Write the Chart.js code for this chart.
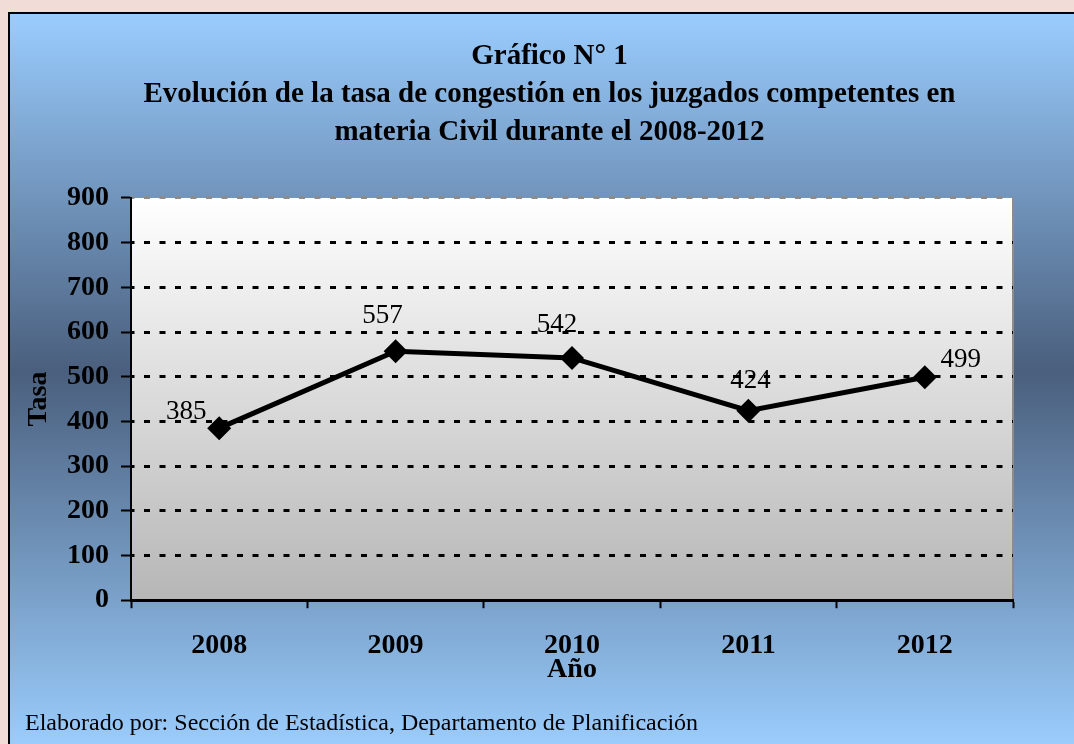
<!DOCTYPE html>
<html>
<head>
<meta charset="utf-8">
<script src="https://cdn.jsdelivr.net/npm/chart.js@4.4.1/dist/chart.umd.min.js"></script>
<style>
  html, body { margin: 0; padding: 0; background: #f1dcd7; }
  canvas { display: block; }
</style>
</head>
<body>
<canvas id="grafico" width="1074" height="744"></canvas>
<script>
// datos del grafico
const years = ['2008', '2009', '2010', '2011', '2012']
const tasa = [385, 557, 542, 424, 499]
const yMin = 0
const yMax = 900
const yStep = 100
const titulo = [
    'Gráfico N° 1',
    'Evolución de la tasa de congestión en los juzgados competentes en',
    'materia Civil durante el 2008-2012'
]
const ejeX = 'Año'
const ejeY = 'Tasa'
const fuente = 'Elaborado por: Sección de Estadística, Departamento de Planificación'

const serif = '"Liberation Serif", "Times New Roman", serif'

// fondo rosado, recuadro azul y area de trazado en degradado
const fondo = {
    id: 'fondo',
    beforeDraw(chart) {
        const ctx = chart.ctx
        const a = chart.chartArea
        const w = chart.width, h = chart.height
        ctx.save()
        ctx.fillStyle = '#f1dcd7'
        ctx.fillRect(0, 0, w, h)

        let g = ctx.createLinearGradient(0, 13, 0, h)
        g.addColorStop(0, '#9acdff')
        g.addColorStop(0.49, '#4a5f7d')
        g.addColorStop(1, '#9accfc')
        ctx.fillStyle = g
        ctx.fillRect(9, 13, w, h)
        ctx.strokeStyle = '#000'
        ctx.lineWidth = 2
        ctx.beginPath()
        ctx.moveTo(9, h)
        ctx.lineTo(9, 13)
        ctx.lineTo(w, 13)
        ctx.stroke()

        let p = ctx.createLinearGradient(0, a.top, 0, a.bottom)
        p.addColorStop(0, '#ffffff')
        p.addColorStop(1, '#b6b6b6')
        ctx.fillStyle = p
        ctx.fillRect(a.left, a.top, a.width, a.height)
        ctx.strokeStyle = '#8c8c8c'
        ctx.lineWidth = 2
        ctx.beginPath()
        ctx.moveTo(a.right, a.top)
        ctx.lineTo(a.right, a.bottom)
        ctx.stroke()
        ctx.restore()
    },
    afterDraw(chart) {
        // eje vertical continuo
        const ctx = chart.ctx
        const a = chart.chartArea
        ctx.save()
        ctx.strokeStyle = '#000'
        ctx.lineWidth = 2
        ctx.beginPath()
        ctx.moveTo(a.left, a.top)
        ctx.lineTo(a.left, a.bottom)
        ctx.stroke()
        ctx.restore()
    }
}

// etiquetas de valores junto a cada punto
const desplaz = [[-33, -16], [-13, -35], [-15, -33], [2, -30], [36, -17]]
const etiquetas = {
    id: 'etiquetas',
    afterDatasetsDraw(chart) {
        const ctx = chart.ctx
        const meta = chart.getDatasetMeta(0)
        ctx.save()
        ctx.font = '27px ' + serif
        ctx.fillStyle = '#000'
        ctx.textAlign = 'center'
        ctx.textBaseline = 'middle'
        meta.data.forEach((pt, i) => {
            ctx.fillText(String(tasa[i]), pt.x + desplaz[i][0], pt.y + desplaz[i][1])
        })
        ctx.restore()
    }
}

const data = {
    labels: years,
    datasets: [{
        label: ejeY,
        data: tasa,
        borderColor: '#000',
        borderWidth: 5,
        fill: false,
        tension: 0,
        pointStyle: 'rectRot',
        pointRadius: 12,
        pointBackgroundColor: '#000',
        pointBorderWidth: 0,
        clip: false
    }]
}

const config = {
    type: 'line',
    data: data,
    plugins: [fondo, etiquetas],
    options: {
        responsive: false,
        animation: false,
        devicePixelRatio: 1,
        layout: { padding: { top: 0, left: 25, right: 0, bottom: 0 } },
        plugins: {
            legend: { display: false },
            tooltip: { enabled: false },
            title: {
                display: true,
                text: titulo,
                color: '#000',
                font: { family: serif, size: 29, weight: 'bold', lineHeight: 1.31 },
                padding: { top: 38, bottom: 46 }
            },
            subtitle: {
                display: true,
                text: fuente,
                position: 'bottom',
                align: 'start',
                color: '#000',
                font: { family: serif, size: 24, weight: 'normal', lineHeight: 1.2 },
                padding: { top: 0, bottom: 6 }
            }
        },
        scales: {
            x: {
                offset: true,
                grid: {
                    offset: true,
                    drawOnChartArea: false,
                    drawTicks: true,
                    tickLength: 8,
                    tickColor: '#000',
                    tickWidth: 2
                },
                border: { color: '#000', width: 3 },
                ticks: {
                    color: '#000',
                    padding: 21,
                    font: { family: serif, size: 28, weight: 'bold' }
                },
                title: {
                    display: true,
                    text: ejeX,
                    color: '#000',
                    font: { family: serif, size: 28, weight: 'bold', lineHeight: 1.2 },
                    padding: { top: 0, bottom: 23 }
                },
                afterFit(scale) { scale.height = 109 }
            },
            y: {
                min: yMin,
                max: yMax,
                ticks: {
                    stepSize: yStep,
                    color: '#000',
                    padding: 12,
                    font: { family: serif, size: 28, weight: 'bold' }
                },
                grid: {
                    color: (c) => c.tick && c.tick.value === yMax ? '#8c8c8c' : '#000',
                    lineWidth: 3,
                    tickLength: 10,
                    tickColor: '#000',
                    tickWidth: 2,
                    tickBorderDash: []
                },
                border: { color: '#000', width: 2, dash: [6, 9.5], dashOffset: 3.5 },
                title: {
                    display: true,
                    text: ejeY,
                    color: '#000',
                    font: { family: serif, size: 28, weight: 'bold', lineHeight: 1.0 },
                    padding: { top: 0, bottom: 0 }
                },
                afterFit(scale) { scale.width = 106 }
            },
            derecha: {
                position: 'right',
                display: true,
                ticks: { display: false },
                grid: { display: false },
                border: { display: false },
                afterFit(scale) { scale.width = 61 }
            }
        }
    }
}

let ctx = document.getElementById('grafico').getContext('2d')
new Chart(ctx, config)
</script>
</body>
</html>
